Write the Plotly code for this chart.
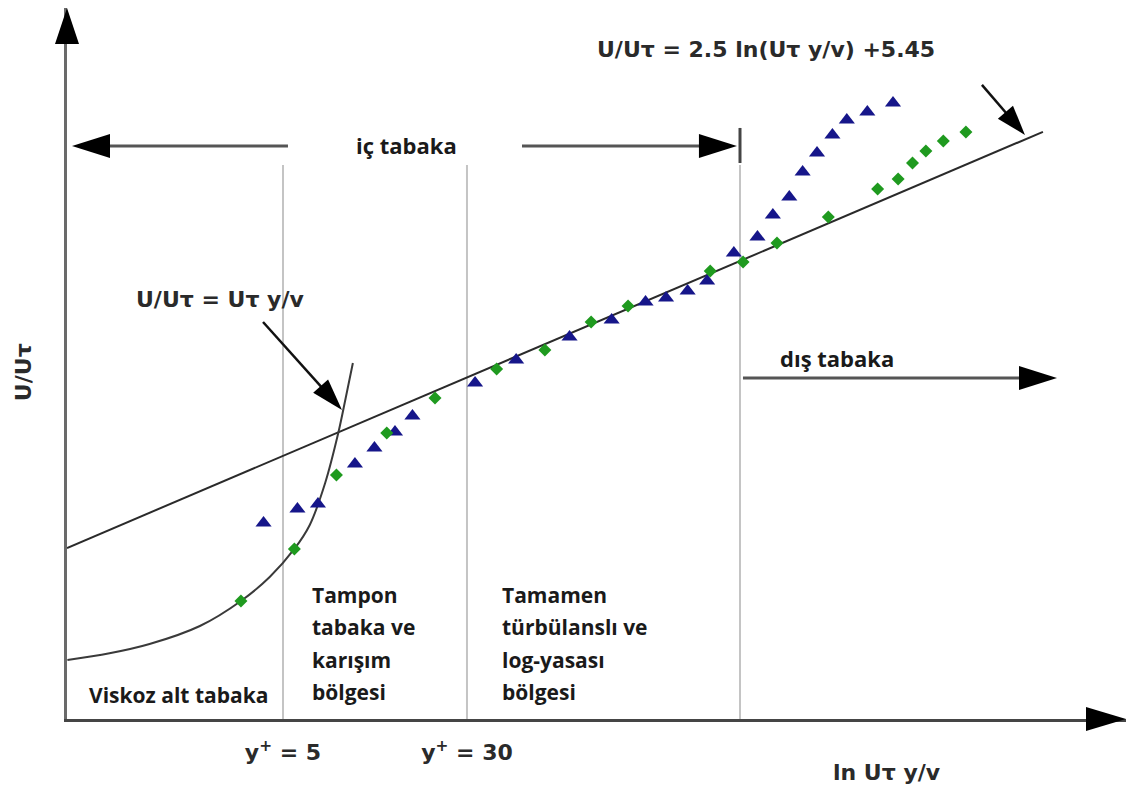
import math
import plotly.graph_objects as go

# data: x = ln(y+), y = U+
loglaw_x = [-0.494, 9.010]
loglaw_y = [4.215, 27.98]

visc_x = [-0.49, -0.08, 0.31, 0.80, 1.20, 1.48, 1.72, 1.87, 2.02, 2.15, 2.22, 2.29]
visc_y = [-2.18, -1.80, -1.27, -0.24, 1.19, 2.56, 4.16, 5.53, 7.93, 10.84, 12.78, 14.78]

blue_x = [1.42, 1.75, 1.95, 2.31, 2.50, 2.70, 2.87, 3.48, 3.88, 4.40, 4.81, 5.14, 5.34,
          5.55, 5.74, 6.00, 6.23, 6.38, 6.54, 6.67, 6.81, 6.96, 7.10, 7.30, 7.55]
blue_y = [5.64, 6.44, 6.73, 9.01, 9.93, 10.84, 11.75, 13.64, 14.95, 16.26, 17.24, 18.26, 18.49,
          18.89, 19.46, 21.06, 21.98, 23.23, 24.26, 25.69, 26.77, 27.80, 28.66, 29.11, 29.63]

green_x = [1.20, 1.72, 2.13, 2.62, 3.09, 3.69, 4.16, 4.61, 4.97, 5.77, 6.09, 6.42, 6.92,
           7.40, 7.60, 7.74, 7.87, 8.04, 8.26]
green_y = [1.19, 4.16, 8.38, 10.78, 12.78, 14.44, 15.52, 17.12, 18.04, 20.03, 20.55, 21.63, 23.12,
           24.72, 25.29, 26.20, 26.89, 27.46, 27.97]

# region boundaries (y+ = 5, y+ = 30, inner/outer layer)
bound_x = [math.log(5), math.log(30), 6.06]
bound_top = 26.09
tick_text = ["<b>y<sup>+</sup> = 5</b>", "<b>y<sup>+</sup> = 30</b>"]

# page body has an 8px margin, so the figure is a bit smaller than the window
W, H = 1118, 781
M = dict(l=59, r=0, t=0, b=70)
XMIN, XMAX = -0.494, 9.819
YMIN, YMAX = -5.55, 35.05
sx = (W - M["l"] - M["r"]) / (XMAX - XMIN)
sy = (H - M["t"] - M["b"]) / (YMAX - YMIN)

ARIAL = "DejaVu Sans"
CALIBRI = "Open Sans"


def head_path(angle, length=38, half=12):
    ca, sa = math.cos(angle), math.sin(angle)
    bx, by = -length * ca, -length * sa
    nx, ny = -sa * half, ca * half
    return f"M0,0 L{bx + nx:.1f},{by + ny:.1f} L{bx - nx:.1f},{by - ny:.1f} Z"


def add_head(fig, x, y, angle, xref="x", yref="y", length=38, half=12):
    fig.add_shape(type="path", xref=xref, yref=yref, xsizemode="pixel", ysizemode="pixel",
                  xanchor=x, yanchor=y, path=head_path(angle, length, half),
                  fillcolor="black", line=dict(width=0))


def add_arrow(fig, x0, y0, x1, y1, color="#555", width=3, length=38, half=12):
    ang = math.atan2((y1 - y0) * sy, (x1 - x0) * sx)
    cut = length * 0.6
    xs = x1 - cut * math.cos(ang) / sx
    ys = y1 - cut * math.sin(ang) / sy
    fig.add_shape(type="line", x0=x0, y0=y0, x1=xs, y1=ys, line=dict(color=color, width=width))
    add_head(fig, x1, y1, ang, length=length, half=half)


fig = go.Figure()

# region boundary lines
for bx in bound_x:
    fig.add_shape(type="line", x0=bx, x1=bx, y0=YMIN, y1=bound_top,
                  line=dict(color="#c4c4c4", width=2), layer="below")

fig.add_trace(go.Scatter(x=loglaw_x, y=loglaw_y, mode="lines",
                         line=dict(color="#2a2a2a", width=2), hoverinfo="skip"))
fig.add_trace(go.Scatter(x=visc_x, y=visc_y, mode="lines",
                         line=dict(color="#3a3a3a", width=2, shape="spline", smoothing=1.0),
                         hoverinfo="skip"))
fig.add_trace(go.Scatter(x=blue_x, y=blue_y, mode="markers",
                         marker=dict(symbol="triangle-up", size=14, color="#16168a")))
fig.add_trace(go.Scatter(x=green_x, y=green_y, mode="markers",
                         marker=dict(symbol="diamond", size=10, color="#1f9a1f")))

# axis arrowheads
add_head(fig, 0, 1, math.pi / 2, xref="paper", yref="paper", length=36, half=12)
add_head(fig, 1, 0, 0, xref="paper", yref="paper", length=40, half=12)

# inner / outer layer arrows
add_arrow(fig, 1.658, 27.17, -0.445, 27.17)
add_arrow(fig, 3.937, 27.17, 6.030, 27.17)
fig.add_shape(type="line", x0=6.06, x1=6.06, y0=26.2, y1=28.2, line=dict(color="#444", width=3))
add_arrow(fig, 6.089, 13.92, 9.147, 13.92)

# pointers to the two laws
add_arrow(fig, 1.415, 17.12, 2.184, 12.10, color="#111", width=2.5, length=32, half=10)
add_arrow(fig, 8.416, 30.66, 8.835, 27.80, color="#111", width=2.5, length=30, half=10)

ann = []


def label(text, x, y, family, size=22, xanchor="center", xref="x", yref="y", angle=0, color="#1a1a1a"):
    ann.append(dict(text=text, x=x, y=y, xref=xref, yref=yref, xanchor=xanchor, yanchor="middle",
                    showarrow=False, textangle=angle,
                    font=dict(family=family, size=size, color=color)))


label("<b>U/Uτ = 2.5 ln(Uτ y/v) +5.45</b>", 6.313, 32.66, ARIAL, color="#2a2a2a")
label("<b>U/Uτ = Uτ y/v</b>", 0.996, 18.38, ARIAL, color="#2a2a2a")
label("<b>iç tabaka</b>", 2.817, 27.23, CALIBRI)
label("<b>dış tabaka</b>", 6.430, 15.07, CALIBRI, xanchor="left")
label("<b>Viskoz alt tabaka</b>", -0.299, -4.18, CALIBRI, size=21, xanchor="left")

line_y = [1.53, -0.30, -2.18, -4.01]
for txt, yy in zip(["Tampon", "tabaka ve", "karışım", "bölgesi"], line_y):
    label(f"<b>{txt}</b>", 1.872, yy, CALIBRI, size=21, xanchor="left")
for txt, yy in zip(["Tamamen", "türbülanslı ve", "log-yasası", "bölgesi"], line_y):
    label(f"<b>{txt}</b>", 3.723, yy, CALIBRI, size=21, xanchor="left")

label("<b>ln Uτ y/v</b>", 7.491, -0.0759, ARIAL, yref="paper", color="#2a2a2a")
label("<b>U/Uτ</b>", -0.0415, 14.26, ARIAL, xref="paper", angle=-90, color="#2a2a2a")

fig.update_layout(
    width=W, height=H, margin=M,
    paper_bgcolor="white", plot_bgcolor="white",
    showlegend=False,
    annotations=ann,
    xaxis=dict(range=[XMIN, XMAX], showgrid=False, zeroline=False,
               showline=True, linecolor="#454545", linewidth=3,
               tickvals=bound_x[:2], ticktext=tick_text, ticks="",
               ticklabelstandoff=12,
               tickfont=dict(family=ARIAL, size=22, color="#2a2a2a")),
    yaxis=dict(range=[YMIN, YMAX], showgrid=False, zeroline=False,
               showline=True, linecolor="#6a6a6a", linewidth=3,
               showticklabels=False, ticks=""),
)

fig.write_html("out.html")
